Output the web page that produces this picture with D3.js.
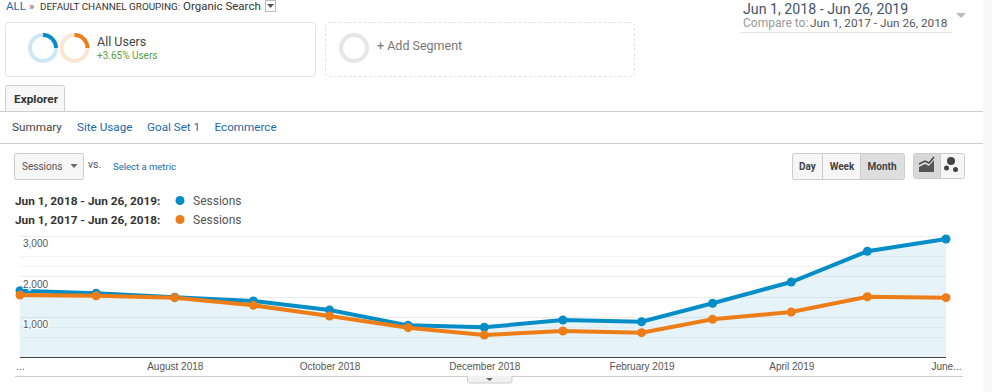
<!DOCTYPE html>
<html>
<head>
<meta charset="utf-8">
<script src="https://cdn.jsdelivr.net/npm/d3@7"></script>
<style>
html, body { margin: 0; padding: 0; background: #fff; overflow: hidden; }
svg { display: block; font-family: Roboto, sans-serif; }
.axis path, .axis line { display: none; }
.axis text { font-family: "Liberation Sans", sans-serif; font-size: 10px; fill: #555; }
</style>
</head>
<body>
<div id="chart"></div>
<script>
// monthly sessions
var months = ['2018-06-01','2018-07-01','2018-08-01','2018-09-01','2018-10-01','2018-11-01','2018-12-01','2019-01-01','2019-02-01','2019-03-01','2019-04-01','2019-05-01','2019-06-01'];
var sessionsCurrent = [1644,1580,1480,1389,1166,785,737,918,875,1332,1860,2621,2926];
var sessionsPrevious = [1538,1520,1471,1282,1017,727,546,645,603,935,1116,1495,1471];
var gridValues = [500,750,1000,1500,2000,2250,2500,3000];
var yTickValues = [1000,2000,3000];
var xTickMonths = ['2018-06-01','2018-08-01','2018-10-01','2018-12-01','2019-02-01','2019-04-01','2019-06-01'];
var xTickLabels = ['...','August 2018','October 2018','December 2018','February 2019','April 2019','June...'];
var rangeCurrent = 'Jun 1, 2018 - Jun 26, 2019';
var rangePrevious = 'Jun 1, 2017 - Jun 26, 2018';

var BLUE = '#058dc7', ORANGE = '#ed7e17', LINK = '#1c6aa8';
var W = 992, H = 392;

var svg = d3.select('#chart').append('svg').attr('width', W).attr('height', H);

function label(x, y, str, size, color, opts){
    opts = opts || {};
    return svg.append('text').attr('x', x).attr('y', y).text(str)
        .attr('font-size', size).attr('fill', color)
        .attr('font-weight', opts.weight || 400)
        .attr('text-anchor', opts.anchor || 'start')
        .attr('font-family', opts.family || null);
}
function box(x, y, w, h, fill, stroke, r){
    return svg.append('rect').attr('x', x + .5).attr('y', y + .5).attr('width', w).attr('height', h)
        .attr('fill', fill).attr('stroke', stroke).attr('rx', r || 0);
}
function hline(x1, x2, y, color){
    svg.append('line').attr('x1', x1).attr('x2', x2).attr('y1', y + .5).attr('y2', y + .5).attr('stroke', color);
}
function caret(cx, top, w, h, color){
    svg.append('path').attr('d', 'M' + (cx - w / 2) + ',' + top + 'h' + w + 'l' + (-w / 2) + ',' + h + 'z').attr('fill', color);
}

svg.append('rect').attr('x', 983).attr('y', 0).attr('width', 9).attr('height', H).attr('fill', '#f8f9fa');

// breadcrumb
label(6, 10, 'ALL', 11.5, LINK);
label(29, 10, '»', 11, '#666');
label(40, 10, 'DEFAULT CHANNEL GROUPING:', 9.9, '#333');
label(183, 10, 'Organic Search', 11.5, '#333');
box(265, 0, 10, 11, '#fff', '#bbb');
caret(270.5, 4, 7, 4, '#555');

// segment cards
box(5, 22, 310, 54, '#fff', '#e3e3e3', 3);
box(325, 22, 309, 54, '#fff', '#e3e3e3', 3).attr('stroke-dasharray', '3,2');

var ring = d3.arc().innerRadius(11).outerRadius(15);
function donut(cx, cy, full, part){
    var g = svg.append('g').attr('transform', 'translate(' + cx + ',' + cy + ')');
    g.append('path').attr('d', ring({startAngle: 0, endAngle: Math.PI * 2})).attr('fill', full);
    if (part) g.append('path').attr('d', ring({startAngle: 0, endAngle: Math.PI / 2})).attr('fill', part);
}
donut(43, 48, '#cde8f4', BLUE);
donut(74.5, 48, '#fbe5d0', ORANGE);
donut(354, 48, '#e6e6e6');

label(97, 46, 'All Users', 12.5, '#444');
label(97, 59, '+3.65% Users', 10, '#5a9e3c');
label(377, 50, '+ Add Segment', 12.5, '#777');

// date range
label(743, 14, rangeCurrent, 14.2, '#3f5468');
label(743, 27, 'Compare to:', 12, '#999');
label(810, 27, rangePrevious, 11.8, '#555');
hline(740, 952, 32, '#e5e5e5');
caret(961, 13, 10, 5, '#bbb');

// tabs
hline(0, 983, 111, '#cfcfcf');
svg.append('path').attr('d', 'M5.5,111V87.5a2,2 0 0 1 2,-2H62.5a2,2 0 0 1 2,2V111').attr('fill', '#f7f7f7').attr('stroke', '#cfcfcf');
label(14, 103, 'Explorer', 11.8, '#333', {weight: 700});
label(12, 131, 'Summary', 11.7, '#444');
label(77, 131, 'Site Usage', 11.7, LINK);
label(147, 131, 'Goal Set 1', 11.7, LINK);
label(214.5, 131, 'Ecommerce', 11.7, LINK);
hline(0, 983, 143, '#cfcfcf');

// metric picker
box(14, 153, 69, 26, '#f6f6f6', '#ccc', 2);
label(22, 170, 'Sessions', 10, '#555');
caret(74, 164, 7, 4, '#666');
label(88, 168, 'vs.', 10.5, '#555');
label(113, 170, 'Select a metric', 9.5, LINK);

// day/week/month
box(792, 153, 112, 26, '#f6f6f6', '#ccc', 2);
svg.append('rect').attr('x', 861).attr('y', 154).attr('width', 43).attr('height', 25).attr('fill', '#dedede');
svg.append('line').attr('x1', 822.5).attr('x2', 822.5).attr('y1', 153).attr('y2', 179).attr('stroke', '#ccc');
svg.append('line').attr('x1', 860.5).attr('x2', 860.5).attr('y1', 153).attr('y2', 179).attr('stroke', '#ccc');
label(807.5, 170, 'Day', 10, '#444', {weight: 700, anchor: 'middle'});
label(842, 170, 'Week', 10, '#444', {weight: 700, anchor: 'middle'});
label(882, 170, 'Month', 10, '#444', {weight: 700, anchor: 'middle'});

// chart type toggle
box(913, 153, 51, 25, '#f6f6f6', '#ccc', 2);
svg.append('rect').attr('x', 914).attr('y', 154).attr('width', 26).attr('height', 24).attr('fill', '#d8d8d8');
svg.append('line').attr('x1', 940.5).attr('x2', 940.5).attr('y1', 153).attr('y2', 178).attr('stroke', '#ccc');
svg.append('path').attr('d', 'M919,172V167L925,164L929,166L934,160V172Z').attr('fill', '#555');
svg.append('path').attr('d', 'M919,164L925,161L929,163L934,157').attr('fill', 'none').attr('stroke', '#444').attr('stroke-width', 1.5);
svg.append('circle').attr('cx', 951).attr('cy', 161).attr('r', 4).attr('fill', '#444');
svg.append('circle').attr('cx', 946.5).attr('cy', 168).attr('r', 2.5).attr('fill', '#444');
svg.append('circle').attr('cx', 955.5).attr('cy', 169.5).attr('r', 2.5).attr('fill', '#444');

// legend
[[rangeCurrent, BLUE, 205], [rangePrevious, ORANGE, 224]].forEach(function(d){
    label(15, d[2], d[0] + ':', 11.8, '#333', {weight: 700});
    svg.append('circle').attr('cx', 180).attr('cy', d[2] - 4.5).attr('r', 4.5).attr('fill', d[1]);
    label(193, d[2], 'Sessions', 12, '#555');
});

// chart
var parse = d3.utcParse('%Y-%m-%d');
var dates = months.map(parse);
var x = d3.scaleUtc().domain([dates[0], dates[dates.length - 1]]).range([20, 946]);
var y = d3.scaleLinear().domain([0, 3000]).range([357, 236]);

hline(20, 946, y(3000), '#efefef');
gridValues.filter(function(v){ return v !== 3000; }).forEach(function(v){
    hline(20, 946, Math.round(y(v)), (v === 1000 || v === 1500 || v === 2000) ? '#ececec' : '#f5f5f5');
});

var area = d3.area().x(function(d, i){ return x(dates[i]); }).y0(y(0)).y1(function(d){ return y(d); });
var line = d3.line().x(function(d, i){ return x(dates[i]); }).y(function(d){ return y(d); });

svg.append('path').attr('d', area(sessionsCurrent)).attr('fill', BLUE).attr('fill-opacity', .1);

[[sessionsCurrent, BLUE], [sessionsPrevious, ORANGE]].forEach(function(s){
    svg.append('path').attr('d', line(s[0])).attr('fill', 'none').attr('stroke', s[1]).attr('stroke-width', 4);
    svg.selectAll(null).data(s[0]).join('circle')
        .attr('cx', function(d, i){ return x(dates[i]); })
        .attr('cy', function(d){ return y(d); })
        .attr('r', 4.5).attr('fill', s[1]);
});

hline(20, 946, 357, '#444');

var yAxis = d3.axisRight(y).tickValues(yTickValues).tickSize(0).tickPadding(0).tickFormat(d3.format(','));
var yG = svg.append('g').attr('class', 'axis').attr('transform', 'translate(23,7.5)').call(yAxis);
yG.selectAll('text').attr('paint-order', 'stroke').attr('stroke', '#fff').attr('stroke-width', 2);

var xAxis = d3.axisBottom(x).tickValues(xTickMonths.map(parse)).tickSize(0).tickPadding(6)
    .tickFormat(function(d, i){ return xTickLabels[i]; });
svg.append('g').attr('class', 'axis').attr('transform', 'translate(0,357)').call(xAxis);

// collapse handle
hline(15, 963, 376, '#ccc');
svg.append('path').attr('d', 'M467.5,376V381a2,2 0 0 0 2,2H510a2,2 0 0 0 2,-2V376').attr('fill', '#f1f1f1').attr('stroke', '#ccc');
caret(489.5, 378, 7, 3, '#666');
</script>
</body>
</html>
